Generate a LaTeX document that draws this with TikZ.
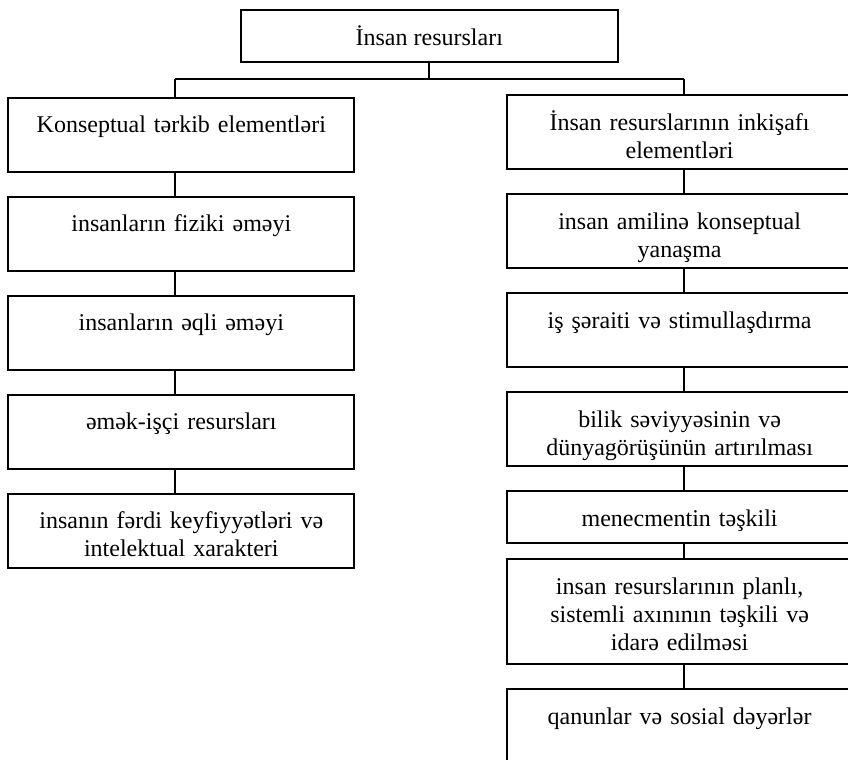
\documentclass[tikz,border=0pt]{standalone}
\usepackage{fontspec}
\setmainfont{Liberation Serif}
\usetikzlibrary{positioning}

\begin{document}
\begin{tikzpicture}[node distance=12.5pt,
  box/.style={draw, line width=0.9pt, rectangle, text width=165pt, inner xsep=4pt, inner ysep=0pt, outer sep=0pt,
    align=center, font=\fontsize{12}{14}\selectfont, text height=17.5pt, text depth=19.5pt}]
  \useasboundingbox (0,0) rectangle (424pt,-380pt);

  \node[draw, line width=0.9pt, rectangle, minimum width=188.5pt, minimum height=26pt, outer sep=0pt,
    font=\fontsize{12}{14}\selectfont] (insan) at (214.65pt,-18pt) {İnsan resursları};

  % left column
  \node[box, anchor=north] (konseptual) at (90.65pt,-48.85pt) {Konseptual tərkib elementləri};
  \node[box, below=of konseptual] (fiziki) {insanların fiziki əməyi};
  \node[box, below=of fiziki] (aqli) {insanların əqli əməyi};
  \node[box, below=of aqli] (emek) {əmək-işçi resursları};
  \node[box, below=of emek] (ferdi) {insanın fərdi keyfiyyətləri və\\ intelektual xarakteri};

  % right column
  \node[box, anchor=north] (inkisaf) at (339.8pt,-47.5pt) {İnsan resurslarının inkişafı\\ elementləri};
  \node[box, below=of inkisaf] (amil) {insan amilinə konseptual\\ yanaşma};
  \node[box, below=of amil] (serait) {iş şəraiti və stimullaşdırma};
  \node[box, below=of serait] (bilik) {bilik səviyyəsinin və\\ dünyagörüşünün artırılması};
  \node[box, below=of bilik, text depth=8.5pt] (menecment) {menecmentin təşkili};
  \node[box, below=8pt of menecment, text depth=35pt] (planli) {insan resurslarının planlı,\\ sistemli axınının təşkili və\\ idarə edilməsi};
  \node[box, below=of planli] (qanun) {qanunlar və sosial dəyərlər};

  \coordinate (lbus) at (87.5pt,-39.5pt);
  \coordinate (rbus) at (342pt,-39.5pt);

  \draw[line width=0.9pt] (insan.south) -- (insan.south |- lbus);
  \draw[line width=0.9pt] (lbus) -- (rbus);
  \draw[line width=0.9pt] (lbus) -- (lbus |- konseptual.north);
  \draw[line width=0.9pt] (rbus) -- (rbus |- inkisaf.north);

  \draw[line width=0.9pt] (konseptual.south -| lbus) -- (fiziki.north -| lbus);
  \draw[line width=0.9pt] (fiziki.south -| lbus) -- (aqli.north -| lbus);
  \draw[line width=0.9pt] (aqli.south -| lbus) -- (emek.north -| lbus);
  \draw[line width=0.9pt] (emek.south -| lbus) -- (ferdi.north -| lbus);

  \draw[line width=0.9pt] (inkisaf.south -| rbus) -- (amil.north -| rbus);
  \draw[line width=0.9pt] (amil.south -| rbus) -- (serait.north -| rbus);
  \draw[line width=0.9pt] (serait.south -| rbus) -- (bilik.north -| rbus);
  \draw[line width=0.9pt] (bilik.south -| rbus) -- (menecment.north -| rbus);
  \draw[line width=0.9pt] (menecment.south -| rbus) -- (planli.north -| rbus);
  \draw[line width=0.9pt] (planli.south -| rbus) -- (qanun.north -| rbus);
\end{tikzpicture}
\end{document}
